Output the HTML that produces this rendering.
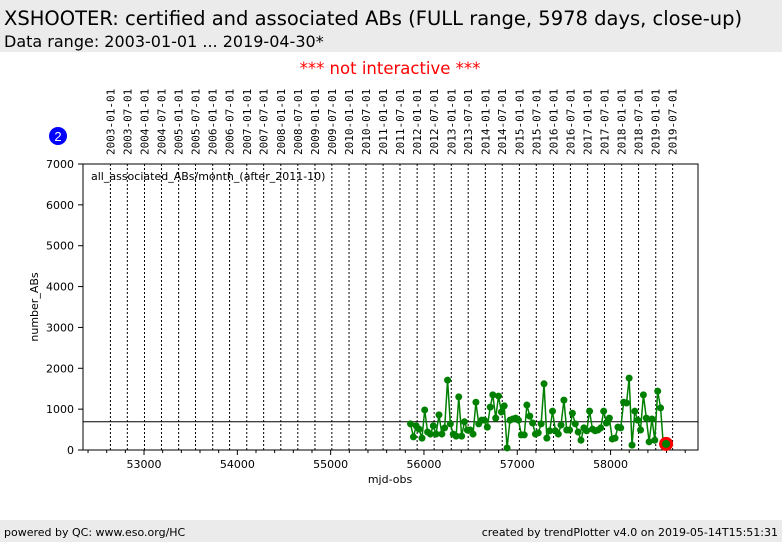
<!DOCTYPE html>
<html><head><meta charset="utf-8"><style>
body{margin:0;width:782px;height:542px;background:#fff;font-family:"Liberation Sans","DejaVu Sans",sans-serif;position:relative;overflow:hidden}
#hdr{position:absolute;left:0;top:0;width:782px;height:52px;background:#ebebeb}
#t1{position:absolute;left:4px;top:7px;font-size:19.5px;color:#000;font-family:"DejaVu Sans",sans-serif}
#t2{position:absolute;left:4px;top:32px;font-size:16px;color:#000;font-family:"DejaVu Sans",sans-serif}
#ftr{position:absolute;left:0;top:520px;width:782px;height:22px;background:#ebebeb;font-size:11px;font-family:"DejaVu Sans",sans-serif}
</style></head><body>
<div id="hdr">
<div id="t1">XSHOOTER: certified and associated ABs (FULL range, 5978 days, close-up)</div>
<div id="t2">Data range: 2003-01-01 ... 2019-04-30*</div>
</div>
<svg id="chart" width="782" height="520" style="position:absolute;left:0;top:0"></svg>
<div id="ftr">
<span style="position:absolute;left:4px;top:6px">powered by QC: www.eso.org/HC</span>
<span style="position:absolute;right:4px;top:6px">created by trendPlotter v4.0 on 2019-05-14T15:51:31</span>
</div>
<script>
const startMonth=[2011,10];
const values=[640,320,590,510,290,980,440,390,590,390,860,390,540,1710,640,390,340,1300,340,690,490,490,390,1170,640,730,730,560,1050,1350,780,1320,930,1080,50,730,760,780,730,370,370,1100,830,660,390,420,640,1620,290,470,950,470,390,610,1220,490,490,900,640,440,240,540,470,950,510,470,490,540,950,660,780,270,290,560,540,1170,1150,1760,120,950,730,490,1350,780,200,760,240,1440,1030,170,150];
const meanValue=690;
const yTicks=[0,1000,2000,3000,4000,5000,6000,7000];
const xTicks=[53000,54000,55000,56000,57000,58000];
const ns="http://www.w3.org/2000/svg";
const svg=document.getElementById('chart');
const L=83,R=698,T=164,B=450,X0=52346,X1=58937;
const xs=m=>L+(m-X0)/(X1-X0)*(R-L);
const ys=v=>B-v/7000*(B-T);
const mjd=(y,m,d)=>Date.UTC(y,m-1,d)/86400000+40587;
function mk(tag,attrs){const e=document.createElementNS(ns,tag);for(const k in attrs)e.setAttribute(k,attrs[k]);svg.appendChild(e);return e;}
let t=mk('text',{x:390,y:74,'text-anchor':'middle','font-size':16.5,fill:'#f00','font-family':'DejaVu Sans,sans-serif'});t.textContent='*** not interactive ***';

let c=mk('circle',{cx:58,cy:136,r:9,fill:'#00f'});
t=mk('text',{x:58,y:141,'text-anchor':'middle','font-size':13,fill:'#fff'});t.textContent='2';

for(let y=2003;y<=2019;y++)for(const mo of [1,7]){
 const x=xs(mjd(y,mo,1));
 const l=mk('line',{x1:x,x2:x,y1:T,y2:B,stroke:'#000','stroke-dasharray':'2,2','stroke-width':1});
 
 const s=y+'-'+(mo<10?'0':'')+mo+'-01';
 const tx=mk('text',{x:0,y:0,'font-size':11,'font-family':'DejaVu Sans Mono,monospace',transform:`translate(${x+4},155) rotate(-90)`});
 tx.textContent=s;
}
let f=mk('rect',{x:L,y:T,width:R-L,height:B-T,fill:'none',stroke:'#000'});

yTicks.forEach(v=>{const y=ys(v);
 const l=mk('line',{x1:L-5,x2:L,y1:y,y2:y,stroke:'#000'});
 const tx=mk('text',{x:L-9,y:y+4,'text-anchor':'end','font-size':11,'font-family':'DejaVu Sans,sans-serif'});tx.textContent=v;
 });
for(let m=52400;m<X1;m+=200){const x=xs(m);const major=m%1000===0;
 const l=mk('line',{x1:x,x2:x,y1:B,y2:B+(major?5:3),stroke:'#000'});}
xTicks.forEach(m=>{const tx=mk('text',{x:xs(m),y:B+18,'text-anchor':'middle','font-size':11,'font-family':'DejaVu Sans,sans-serif'});tx.textContent=m;
 });
t=mk('text',{x:390,y:483,'text-anchor':'middle','font-size':11,'font-family':'DejaVu Sans,sans-serif'});t.textContent='mjd-obs';

t=mk('text',{x:0,y:0,'text-anchor':'middle','font-size':11,'font-family':'DejaVu Sans,sans-serif',transform:'translate(38,307) rotate(-90)'});t.textContent='number_ABs';

t=mk('text',{x:91,y:180,'font-size':11,'font-family':'DejaVu Sans,sans-serif'});t.textContent='all_associated_ABs/month_(after_2011-10)';

let ml=mk('line',{x1:L,x2:R,y1:ys(meanValue),y2:ys(meanValue),stroke:'#000'});

const pts=values.map((v,i)=>{const mm=startMonth[1]-1+i;return [xs(mjd(startMonth[0]+Math.floor(mm/12),mm%12+1,22)),ys(v)];});
let pl=mk('polyline',{points:pts.map(p=>p.join(',')).join(' '),fill:'none',stroke:'#008000','stroke-width':1.5});

pts.forEach(p=>{const d=mk('circle',{cx:p[0],cy:p[1],r:3.5,fill:'#008000'});
 });
const lp=pts[pts.length-1];
let r=mk('circle',{cx:lp[0],cy:lp[1],r:5.5,fill:'#008000',stroke:'#f00','stroke-width':3});

</script>
</body></html>
